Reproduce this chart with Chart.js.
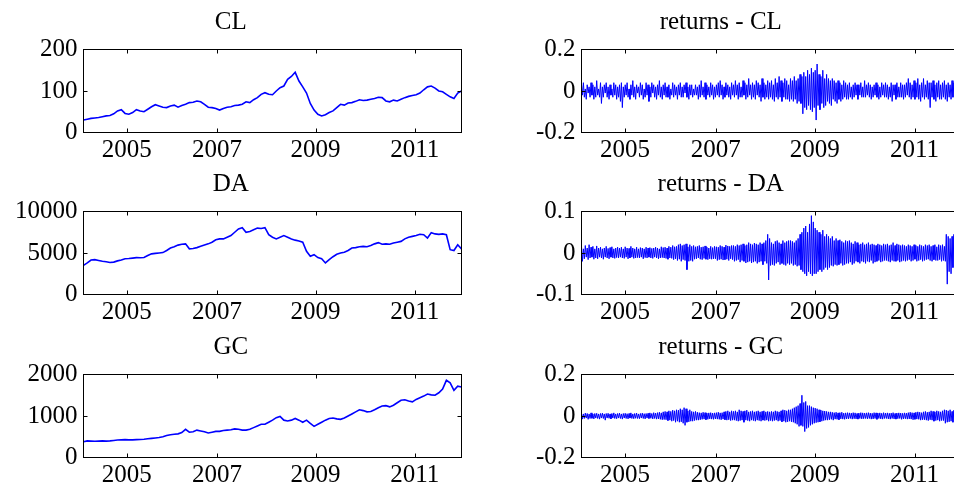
<!DOCTYPE html>
<html>
<head>
<meta charset="utf-8">
<script src="https://cdn.jsdelivr.net/npm/chart.js@4.4.1/dist/chart.umd.min.js"></script>
<style>
  html, body { margin: 0; padding: 0; overflow: hidden; background: #fff; }
  #wrap { position: relative; width: 954px; height: 491px; overflow: hidden; background: #fff; }
  canvas { position: absolute; }
</style>
</head>
<body>
<div id="wrap"></div>
<script>
// ---------- DATA ----------
// x axis: trading-day index (0..2000); tick positions where the years start
const xTickIdx = [229, 707, 1228, 1753];
const xTickLabels = ['2005', '2007', '2009', '2011'];
const priceStep = 20;   // price series sampled every 20 trading days
const retStep = 5;      // return series sampled every 5 trading days

const titles = ['CL', 'returns - CL', 'DA', 'returns - DA', 'GC', 'returns - GC'];

const cl = [30,32,34,35,36,38,40,41,45,52,
  55,46,44,48,55,52,50,56,62,67,
  64,61,60,64,66,61,65,68,72,73,
  76,74,68,61,60,58,54,58,61,62,
  65,66,68,74,72,79,84,92,96,92,
  91,100,108,112,128,135,145,124,110,95,
  70,54,44,40,43,48,52,60,68,66,
  71,72,75,79,77,78,80,82,85,84,
  76,74,78,76,80,84,87,89,91,95,
  103,110,112,107,100,98,92,86,82,95,
  100];

const da = [3500,3800,4150,4200,4100,4000,3950,3850,3900,4050,
  4150,4300,4330,4380,4440,4430,4450,4700,4900,4950,
  5000,5050,5300,5600,5750,5950,6050,6100,5500,5550,
  5650,5800,5950,6100,6300,6600,6700,6700,6900,7100,
  7500,7900,8050,7500,7600,7800,8000,7950,8050,7200,
  6900,6700,6900,7100,6900,6700,6550,6450,6300,5200,
  4600,4800,4450,4300,3800,4200,4550,4850,5000,5100,
  5300,5600,5650,5750,5800,5750,5900,6100,6250,6050,
  6100,6050,6200,6300,6400,6700,6900,7000,7100,7250,
  7200,6800,7450,7300,7250,7300,7200,5400,5300,6000,
  5500];

const gc = [380,400,395,390,395,400,395,400,410,420,
  425,430,425,425,430,435,440,450,460,470,
  480,500,530,550,560,570,600,680,610,620,
  660,640,620,590,610,630,630,650,660,670,
  690,680,660,660,680,720,760,800,800,850,
  900,960,990,900,880,900,940,900,850,900,
  820,750,800,850,900,940,950,930,920,950,
  1000,1050,1100,1150,1130,1100,1110,1150,1200,1240,
  1250,1220,1260,1320,1380,1390,1360,1340,1400,1440,
  1480,1530,1510,1500,1560,1650,1860,1800,1620,1720,
  1700];

const retCL = [
  0.03,-0.02,0.04,-0.03,0.01,-0.04,0.03,-0.01,0.02,-0.03,0.04,-0.02,0.03,-0.04,0.02,-0.03,0.05,-0.02,0.01,-0.03,
  0.04,-0.06,0.02,-0.03,0.03,-0.01,0.04,-0.03,0.02,-0.04,0.03,-0.02,0.01,-0.03,0.04,-0.02,0.03,-0.04,0.02,-0.03,
  0.03,-0.05,0.04,-0.08,0.02,-0.03,0.03,-0.02,0.04,-0.03,0.01,-0.04,0.03,-0.02,0.05,-0.03,0.02,-0.04,0.03,-0.01,
  0.02,-0.03,0.04,-0.02,0.03,-0.04,0.01,-0.03,0.04,-0.02,0.03,-0.05,0.02,-0.03,0.04,-0.01,0.03,-0.03,0.02,-0.04,
  0.03,-0.02,0.05,-0.03,0.02,-0.04,0.03,-0.02,0.04,-0.03,0.02,-0.03,0.03,-0.04,0.01,-0.02,0.04,-0.03,0.03,-0.02,
  0.02,-0.04,0.03,-0.02,0.04,-0.03,0.02,-0.03,0.03,-0.01,0.04,-0.03,0.02,-0.04,0.03,-0.02,0.03,-0.03,0.01,-0.02,
  0.03,-0.02,0.02,-0.04,0.03,-0.03,0.05,-0.02,0.02,-0.03,0.04,-0.04,0.03,-0.02,0.02,-0.03,0.04,-0.02,0.03,-0.04,
  0.02,-0.03,0.03,-0.02,0.04,-0.03,0.05,-0.02,0.03,-0.04,0.02,-0.03,0.04,-0.02,0.03,-0.03,0.02,-0.04,0.04,-0.02,
  0.03,-0.03,0.05,-0.02,0.03,-0.04,0.04,-0.03,0.02,-0.03,0.05,-0.02,0.04,-0.04,0.03,-0.03,0.06,-0.02,0.03,-0.04,
  0.04,-0.03,0.03,-0.04,0.05,-0.02,0.04,-0.03,0.03,-0.05,0.06,-0.03,0.04,-0.04,0.03,-0.03,0.05,-0.04,0.04,-0.03,
  0.05,-0.04,0.03,-0.05,0.06,-0.03,0.04,-0.04,0.07,-0.03,0.05,-0.05,0.04,-0.03,0.06,-0.04,0.05,-0.04,0.03,-0.05,
  0.06,-0.04,0.05,-0.05,0.07,-0.04,0.05,-0.06,0.06,-0.05,0.08,-0.06,0.07,-0.11,0.09,-0.08,0.07,-0.09,0.1,-0.07,
  0.08,-0.09,0.11,-0.1,0.09,-0.08,0.1,-0.14,0.13,-0.07,0.08,-0.09,0.07,-0.06,0.1,-0.08,0.06,-0.07,0.08,-0.05,
  0.06,-0.06,0.05,-0.07,0.06,-0.04,0.05,-0.05,0.04,-0.06,0.05,-0.04,0.04,-0.05,0.03,-0.04,0.05,-0.03,0.04,-0.04,
  0.03,-0.04,0.04,-0.03,0.02,-0.04,0.03,-0.03,0.04,-0.02,0.03,-0.04,0.03,-0.02,0.04,-0.03,0.02,-0.03,0.05,-0.03,
  0.03,-0.02,0.04,-0.03,0.03,-0.04,0.02,-0.03,0.03,-0.02,0.04,-0.03,0.03,-0.04,0.02,-0.03,0.04,-0.02,0.03,-0.03,
  0.04,-0.03,0.03,-0.04,0.02,-0.03,0.04,-0.05,0.03,-0.02,0.03,-0.04,0.04,-0.03,0.02,-0.03,0.04,-0.03,0.03,-0.04,
  0.03,-0.03,0.04,-0.02,0.06,-0.03,0.04,-0.04,0.03,-0.03,0.05,-0.04,0.04,-0.03,0.06,-0.04,0.03,-0.05,0.04,-0.03,
  0.06,-0.04,0.03,-0.03,0.05,-0.04,0.04,-0.08,0.04,-0.03,0.05,-0.04,0.03,-0.05,0.04,-0.03,0.05,-0.04,0.03,-0.04,
  0.04,-0.03,0.05,-0.04,0.03,-0.05,0.04,-0.03,0.03,-0.04,0.05,-0.03,0.04,-0.04,0.03,-0.03,0.04,-0.05,0.03,-0.04,
  0.02];

const retDA = [
  0.015,-0.02,0.01,-0.014,0.018,-0.01,0.012,-0.016,0.02,-0.012,0.014,-0.01,0.016,-0.015,0.01,-0.012,0.017,-0.014,0.012,-0.01,
  0.014,-0.012,0.01,-0.015,0.012,-0.01,0.016,-0.012,0.011,-0.014,0.013,-0.01,0.015,-0.012,0.01,-0.013,0.012,-0.011,0.014,-0.012,
  0.012,-0.01,0.014,-0.012,0.01,-0.013,0.015,-0.01,0.012,-0.014,0.011,-0.012,0.016,-0.01,0.012,-0.013,0.01,-0.012,0.014,-0.011,
  0.01,-0.012,0.013,-0.01,0.012,-0.014,0.01,-0.011,0.014,-0.012,0.012,-0.01,0.013,-0.012,0.011,-0.013,0.012,-0.01,0.014,-0.012,
  0.012,-0.014,0.01,-0.012,0.015,-0.011,0.013,-0.012,0.014,-0.013,0.012,-0.015,0.016,-0.012,0.014,-0.013,0.018,-0.016,0.015,-0.014,
  0.016,-0.018,0.02,-0.015,0.022,-0.02,0.018,-0.016,0.02,-0.018,0.022,-0.04,0.015,-0.02,0.02,-0.018,0.016,-0.02,0.018,-0.015,
  0.015,-0.014,0.016,-0.012,0.018,-0.015,0.014,-0.016,0.015,-0.013,0.017,-0.015,0.014,-0.016,0.012,-0.014,0.016,-0.015,0.013,-0.014,
  0.016,-0.014,0.015,-0.018,0.014,-0.016,0.018,-0.015,0.016,-0.017,0.014,-0.016,0.019,-0.015,0.017,-0.018,0.016,-0.014,0.018,-0.016,
  0.018,-0.02,0.016,-0.018,0.02,-0.016,0.018,-0.022,0.02,-0.018,0.022,-0.02,0.018,-0.024,0.02,-0.022,0.025,-0.02,0.022,-0.024,
  0.02,-0.022,0.024,-0.02,0.022,-0.025,0.02,-0.022,0.025,-0.02,0.022,-0.028,0.025,-0.02,0.03,-0.025,0.045,-0.065,0.035,-0.03,
  0.025,-0.028,0.022,-0.03,0.028,-0.025,0.03,-0.022,0.025,-0.028,0.022,-0.025,0.03,-0.028,0.025,-0.03,0.028,-0.025,0.03,-0.028,
  0.03,-0.025,0.028,-0.03,0.025,-0.028,0.03,-0.032,0.035,-0.03,0.045,-0.04,0.05,-0.045,0.06,-0.05,0.065,-0.055,0.05,-0.045,
  0.07,-0.05,0.09,-0.055,0.075,-0.05,0.06,-0.05,0.055,-0.045,0.05,-0.04,0.045,-0.045,0.055,-0.04,0.04,-0.035,0.045,-0.04,
  0.04,-0.035,0.035,-0.03,0.04,-0.032,0.03,-0.028,0.035,-0.03,0.03,-0.028,0.032,-0.025,0.028,-0.03,0.025,-0.028,0.03,-0.025,
  0.028,-0.025,0.03,-0.022,0.025,-0.028,0.022,-0.025,0.028,-0.02,0.025,-0.022,0.02,-0.025,0.022,-0.02,0.025,-0.022,0.02,-0.025,
  0.022,-0.02,0.025,-0.022,0.02,-0.018,0.022,-0.025,0.02,-0.022,0.018,-0.02,0.022,-0.018,0.02,-0.022,0.018,-0.02,0.022,-0.018,
  0.02,-0.018,0.022,-0.02,0.018,-0.022,0.02,-0.018,0.025,-0.02,0.018,-0.02,0.022,-0.018,0.02,-0.022,0.018,-0.02,0.02,-0.018,
  0.018,-0.02,0.016,-0.018,0.02,-0.016,0.018,-0.02,0.016,-0.018,0.02,-0.015,0.018,-0.02,0.016,-0.018,0.02,-0.016,0.018,-0.02,
  0.016,-0.018,0.02,-0.016,0.018,-0.015,0.02,-0.018,0.016,-0.02,0.018,-0.016,0.02,-0.018,0.015,-0.018,0.02,-0.016,0.018,-0.02,
  0.02,-0.018,0.016,-0.02,0.045,-0.075,0.04,-0.045,0.035,-0.05,0.04,-0.035,0.045,-0.03,0.035,-0.04,0.03,-0.035,0.04,-0.03,
  0.02];

const retGC = [
  0.012,-0.015,0.01,-0.012,0.014,-0.01,0.012,-0.016,0.01,-0.012,0.015,-0.011,0.01,-0.014,0.012,-0.01,0.013,-0.012,0.01,-0.015,
  0.012,-0.01,0.014,-0.012,0.01,-0.02,0.012,-0.01,0.013,-0.011,0.01,-0.014,0.012,-0.01,0.015,-0.012,0.01,-0.013,0.012,-0.01,
  0.014,-0.012,0.01,-0.015,0.012,-0.01,0.013,-0.012,0.011,-0.014,0.012,-0.01,0.015,-0.012,0.01,-0.013,0.012,-0.011,0.014,-0.012,
  0.01,-0.013,0.012,-0.01,0.014,-0.012,0.011,-0.014,0.012,-0.01,0.013,-0.012,0.015,-0.011,0.012,-0.014,0.016,-0.012,0.014,-0.015,
  0.016,-0.014,0.018,-0.016,0.015,-0.018,0.02,-0.017,0.022,-0.018,0.02,-0.022,0.025,-0.02,0.022,-0.025,0.028,-0.022,0.025,-0.03,
  0.03,-0.025,0.028,-0.03,0.035,-0.028,0.03,-0.035,0.04,-0.045,0.035,-0.03,0.025,-0.028,0.03,-0.025,0.022,-0.025,0.02,-0.022,
  0.022,-0.02,0.018,-0.02,0.016,-0.018,0.015,-0.016,0.018,-0.015,0.016,-0.018,0.014,-0.016,0.015,-0.014,0.016,-0.015,0.014,-0.016,
  0.015,-0.014,0.016,-0.015,0.018,-0.016,0.015,-0.018,0.016,-0.015,0.02,-0.018,0.022,-0.02,0.025,-0.018,0.02,-0.022,0.025,-0.02,
  0.022,-0.02,0.025,-0.022,0.02,-0.025,0.03,-0.022,0.025,-0.02,0.022,-0.03,0.025,-0.02,0.028,-0.022,0.02,-0.025,0.022,-0.02,
  0.025,-0.022,0.02,-0.025,0.022,-0.02,0.025,-0.022,0.02,-0.025,0.022,-0.02,0.025,-0.022,0.02,-0.02,0.022,-0.025,0.02,-0.022,
  0.022,-0.025,0.02,-0.022,0.025,-0.02,0.022,-0.025,0.02,-0.022,0.025,-0.028,0.03,-0.025,0.028,-0.03,0.025,-0.028,0.03,-0.025,
  0.03,-0.028,0.035,-0.03,0.04,-0.035,0.045,-0.04,0.05,-0.05,0.06,-0.045,0.1,-0.05,0.065,-0.075,0.07,-0.06,0.05,-0.055,
  0.05,-0.045,0.045,-0.04,0.04,-0.035,0.038,-0.032,0.035,-0.03,0.03,-0.028,0.028,-0.025,0.025,-0.022,0.024,-0.02,0.022,-0.02,
  0.02,-0.018,0.02,-0.016,0.018,-0.02,0.016,-0.015,0.018,-0.016,0.015,-0.018,0.016,-0.014,0.018,-0.015,0.014,-0.016,0.015,-0.014,
  0.016,-0.014,0.015,-0.012,0.014,-0.015,0.016,-0.013,0.015,-0.014,0.012,-0.015,0.014,-0.012,0.016,-0.014,0.015,-0.013,0.014,-0.012,
  0.015,-0.014,0.016,-0.012,0.014,-0.015,0.013,-0.014,0.016,-0.012,0.015,-0.016,0.014,-0.012,0.015,-0.014,0.013,-0.015,0.016,-0.012,
  0.014,-0.012,0.015,-0.014,0.013,-0.015,0.014,-0.012,0.016,-0.014,0.012,-0.015,0.014,-0.013,0.015,-0.012,0.014,-0.016,0.013,-0.014,
  0.015,-0.013,0.014,-0.015,0.016,-0.014,0.018,-0.015,0.016,-0.018,0.015,-0.016,0.018,-0.015,0.02,-0.016,0.018,-0.02,0.016,-0.018,
  0.02,-0.018,0.022,-0.02,0.018,-0.022,0.02,-0.018,0.025,-0.02,0.022,-0.025,0.02,-0.022,0.025,-0.02,0.022,-0.025,0.02,-0.022,
  0.025,-0.022,0.03,-0.035,0.028,-0.03,0.025,-0.028,0.03,-0.025,0.022,-0.03,0.028,-0.025,0.03,-0.028,0.025,-0.03,0.028,-0.025,
  0.02];

const yTicksCL = [0, 100, 200];
const yTicksDA = [0, 5000, 10000];
const yTicksGC = [0, 1000, 2000];
const yTicksRetCL = [-0.2, 0, 0.2];
const yTicksRetDA = [-0.1, 0, 0.1];
const yTicksRetGC = [-0.2, 0, 0.2];

// ---------- RENDER ----------
const FONT = "'Liberation Serif', 'Times New Roman', serif";
Chart.defaults.font.family = FONT;
Chart.defaults.font.size = 25;
Chart.defaults.color = '#000';

const boxTicks = {
  id: 'boxTicks',
  afterDatasetsDraw(chart) {
    const { ctx, chartArea: a, scales: { x, y } } = chart;
    const L = 4;
    ctx.save();
    ctx.strokeStyle = '#000';
    ctx.lineWidth = 1;
    ctx.strokeRect(a.left, a.top, a.right - a.left, a.bottom - a.top);
    ctx.beginPath();
    x.ticks.forEach(t => {
      const px = Math.round(x.getPixelForValue(t.value)) + 0.5;
      ctx.moveTo(px, a.bottom); ctx.lineTo(px, a.bottom - L);
      ctx.moveTo(px, a.top); ctx.lineTo(px, a.top + L);
    });
    y.ticks.forEach(t => {
      const py = Math.round(y.getPixelForValue(t.value) - 0.5) + 0.5;
      ctx.moveTo(a.left, py); ctx.lineTo(a.left + L, py);
      ctx.moveTo(a.right, py); ctx.lineTo(a.right - L, py);
    });
    ctx.stroke();
    ctx.restore();
  }
};

const wrap = document.getElementById('wrap');

function makePanel(opts) {
  const c = document.createElement('canvas');
  c.width = opts.w; c.height = 162;
  c.style.left = opts.left + 'px';
  c.style.top = opts.top + 'px';
  c.style.width = opts.w + 'px';
  c.style.height = '162px';
  wrap.appendChild(c);
  const pts = opts.values.map((v, i) => ({ x: i * opts.step, y: v }));
  new Chart(c, {
    type: 'line',
    data: { datasets: [{ data: pts, borderColor: '#0000ff', borderWidth: opts.lw, pointRadius: 0, tension: 0, fill: false }] },
    options: {
      responsive: false,
      animation: false,
      events: [],
      layout: { padding: { left: 0, right: opts.padR, top: 0, bottom: 0 } },
      plugins: {
        legend: { display: false },
        tooltip: { enabled: false },
        title: {
          display: true,
          text: opts.title,
          color: '#000',
          font: { family: FONT, size: 25, weight: 'normal', lineHeight: 1.2 },
          padding: { top: 7.5, bottom: 12 }
        }
      },
      scales: {
        x: {
          type: 'linear', min: 0, max: 2000,
          grid: { display: false, drawTicks: false },
          border: { display: false },
          afterBuildTicks: s => { s.ticks = xTickIdx.map(v => ({ value: v })); },
          afterFit: s => { s.height = 29.5; },
          ticks: {
            autoSkip: false, maxRotation: 0, padding: 3,
            callback: (v, i) => xTickLabels[i]
          }
        },
        y: {
          type: 'linear', min: opts.yt[0], max: opts.yt[opts.yt.length - 1],
          grid: { display: false, drawTicks: false },
          border: { display: false },
          afterBuildTicks: s => { s.ticks = opts.yt.map(v => ({ value: v })); },
          afterFit: s => { s.width = opts.yW; },
          ticks: { padding: 6, callback: (v, i) => String(opts.yt[i]) }
        }
      }
    },
    plugins: [boxTicks]
  });
}

const rowTops = [0, 162, 325];
const priceSeries = [[cl, yTicksCL], [da, yTicksDA], [gc, yTicksGC]];
const retSeries = [[retCL, yTicksRetCL], [retDA, yTicksRetDA], [retGC, yTicksRetGC]];

for (let r = 0; r < 3; r++) {
  makePanel({ left: 0, top: rowTops[r], w: 545, yW: 83.5, padR: 83.5,
    title: titles[2 * r], values: priceSeries[r][0], yt: priceSeries[r][1], step: priceStep, lw: 1.6 });
  makePanel({ left: 480, top: rowTops[r], w: 583, yW: 101.5, padR: 101.5,
    title: titles[2 * r + 1], values: retSeries[r][0], yt: retSeries[r][1], step: retStep, lw: 1 });
}
</script>
</body>
</html>
